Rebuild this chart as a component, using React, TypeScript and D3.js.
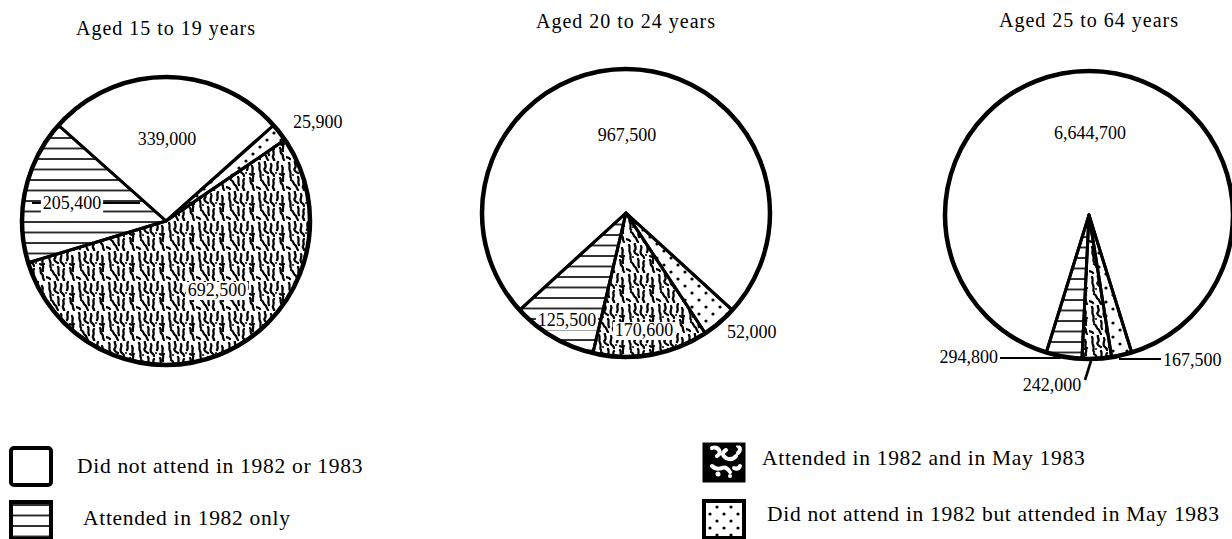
import React from "react";
import * as d3 from "d3";

const ageGroups = ["Aged 15 to 19 years", "Aged 20 to 24 years", "Aged 25 to 64 years"];
const categories = [
  "Did not attend in 1982 or 1983",
  "Did not attend in 1982 but attended in May 1983",
  "Attended in 1982 and in May 1983",
  "Attended in 1982 only",
];
// slice order clockwise: not attended, attended May 1983 only, both, 1982 only
const aged15to19 = [339000, 25900, 692500, 205400];
const aged20to24 = [967500, 52000, 170600, 125500];
const aged25to64 = [6644700, 167500, 242000, 294800];
const series = [aged15to19, aged20to24, aged25to64];

const width = 1232;
const height = 539;
const radius = 144;
const font = "'Liberation Serif', 'Times New Roman', serif";
const pies = [
  { x: 166, y: 221, ty: 35 },
  { x: 626, y: 213, ty: 28 },
  { x: 1089, y: 215, ty: 27 },
];
const fills = ["#fff", "url(#dots)", "url(#worms)", "url(#hlines)"];

// label placement relative to each pie centre
type Lab = { i: number; dx: number; dy: number; anchor?: string; bg?: boolean };
const labelLayout: Lab[][] = [
  [
    { i: 0, dx: 1, dy: -76 },
    { i: 1, dx: 127, dy: -93, anchor: "start" },
    { i: 2, dx: 51, dy: 75, bg: true },
    { i: 3, dx: -94, dy: -12, bg: true },
  ],
  [
    { i: 0, dx: 1, dy: -72 },
    { i: 1, dx: 101, dy: 125, anchor: "start" },
    { i: 2, dx: 18, dy: 123, bg: true },
    { i: 3, dx: -59, dy: 113, bg: true },
  ],
  [
    { i: 0, dx: 1, dy: -76 },
    { i: 1, dx: 74, dy: 151, anchor: "start" },
    { i: 2, dx: -37, dy: 176 },
    { i: 3, dx: -91, dy: 148, anchor: "end" },
  ],
];

const fmt = d3.format(",");

const App: React.FC = () => {
  const arc = d3.arc<d3.PieArcDatum<number>>().innerRadius(0).outerRadius(radius);

  return (
    <div style={{ position: "absolute", left: 0, top: 0 }}>
      <svg width={width} height={height} style={{ display: "block", background: "#fff" }}>
        <defs>
          <pattern id="hlines" width={10} height={10.5} patternUnits="userSpaceOnUse">
            <rect width={10} height={10.5} fill="#fff" />
            <line x1={0} x2={10} y1={1} y2={1} stroke="#000" strokeWidth={1.6} />
          </pattern>
          <pattern id="dots" width={14} height={14} patternUnits="userSpaceOnUse">
            <rect width={14} height={14} fill="#fff" />
            <circle cx={3} cy={3} r={1.6} fill="#000" />
            <circle cx={10} cy={10} r={1.6} fill="#000" />
          </pattern>
          <pattern id="worms" width={30} height={30} patternUnits="userSpaceOnUse">
            <rect width={30} height={30} fill="#fff" />
            <g fill="none" stroke="#000" strokeWidth={2.3} strokeLinecap="round" strokeLinejoin="round">
              <path d="M3,2 c2,3 -1,5 1,8 s-1,5 1,7" />
              <path d="M9,0 c-1,3 2,4 0,7 c-2,2 1,4 3,5" />
              <path d="M15,3 c2,2 -2,5 0,8 c1,2 3,1 3,4" />
              <path d="M22,1 c-2,3 1,5 -1,8" />
              <path d="M26,5 c2,3 -1,6 1,9 c1,2 -1,4 0,6" />
              <path d="M5,19 c3,1 2,4 4,5 c2,1 1,3 3,5" />
              <path d="M12,16 c2,3 -1,5 1,8" />
              <path d="M18,18 c-2,2 1,4 -1,7 c-1,2 2,3 1,5" />
              <path d="M24,17 c2,2 -1,4 2,6 c2,2 0,4 2,6" />
              <path d="M0,26 c2,1 3,0 4,2" />
              <path d="M28,13 c-1,1 -3,1 -4,0" />
            </g>
            <circle cx={20} cy={12} r={1} fill="#000" />
            <circle cx={7} cy={14} r={1} fill="#000" />
          </pattern>
          <pattern id="blobs" width={44} height={40} patternUnits="userSpaceOnUse">
            <rect width={44} height={40} fill="#000" />
            <g fill="none" stroke="#fff" strokeWidth={4} strokeLinecap="round">
              <path d="M8,8 q4,-2 7,2 q2,4 -2,6" />
              <path d="M22,10 q-6,4 0,8 q6,3 10,-2" />
              <path d="M34,6 q4,3 0,7" />
              <path d="M8,26 q4,4 10,2 q4,-2 8,4" />
              <path d="M30,28 q4,2 6,-2" />
            </g>
            <circle cx={14} cy={34} r={2.5} fill="#fff" />
            <circle cx={26} cy={36} r={2} fill="#fff" />
          </pattern>
        </defs>

        {series.map((values, k) => {
          const p = pies[k];
          const total = d3.sum(values);
          const start = -Math.PI * (values[0] / total);
          const pie = d3
            .pie<number>()
            .sort(null)
            .value((d) => d)
            .startAngle(start)
            .endAngle(start + 2 * Math.PI);
          const slices = pie(values);
          return (
            <g key={k}>
              <text
                x={p.x}
                y={p.ty}
                textAnchor="middle"
                fontFamily={font}
                fontSize={20}
                letterSpacing={1}
              >
                {ageGroups[k]}
              </text>
              <g transform={`translate(${p.x},${p.y})`}>
                {slices.map((s, i) => (
                  <path key={i} d={arc(s) || ""} fill={fills[i]} />
                ))}
                {k === 0 && (
                  <g stroke="#000" strokeWidth={2.2}>
                    <line x1={-134} x2={-26} y1={-18} y2={-18} />
                  </g>
                )}
                {labelLayout[k].map((l) => {
                  const txt = fmt(values[l.i]);
                  const w = txt.length * 8.6;
                  const anchor = l.anchor || "middle";
                  const x0 = anchor === "middle" ? l.dx - w / 2 : anchor === "start" ? l.dx : l.dx - w;
                  return (
                    <g key={l.i}>
                      {l.bg && (
                        <rect x={x0 - 1} y={l.dy - 14} width={w + 2} height={18} fill="#fff" />
                      )}
                      <text
                        x={l.dx}
                        y={l.dy}
                        textAnchor={anchor}
                        fontFamily={font}
                        fontSize={18}
                      >
                        {txt}
                      </text>
                    </g>
                  );
                })}
                {slices.map((s, i) => (
                  <path
                    key={"o" + i}
                    d={arc(s) || ""}
                    fill="none"
                    stroke="#000"
                    strokeWidth={3}
                    strokeLinejoin="round"
                  />
                ))}
                <circle r={radius} fill="none" stroke="#000" strokeWidth={4.5} />
                {k === 2 && (
                  <g stroke="#000" strokeWidth={2}>
                    <line x1={-89} x2={-28} y1={143} y2={143} />
                    <line x1={30} x2={72} y1={144} y2={144} />
                    <line x1={-4} x2={2} y1={165} y2={146} strokeWidth={2.6} />
                  </g>
                )}
              </g>
            </g>
          );
        })}

        {/* legend */}
        <g fontFamily={font} fontSize={21.5} letterSpacing={0.7}>
          <rect x={11} y={448} width={40} height={37} rx={3} fill="#fff" stroke="#000" strokeWidth={4} />
          <text x={77} y={473}>{categories[0]}</text>
          <rect x={11} y={502} width={40} height={37} fill="url(#hlines)" stroke="#000" strokeWidth={4} />
          <text x={83} y={525}>{categories[3]}</text>
          <rect x={704} y={444} width={40} height={37} fill="url(#blobs)" stroke="#000" strokeWidth={3} />
          <text x={762} y={465}>{categories[2]}</text>
          <rect x={704} y={501} width={40} height={37} fill="url(#dots)" stroke="#000" strokeWidth={4} />
          <text x={767} y={521}>{categories[1]}</text>
        </g>
      </svg>
    </div>
  );
};

export default App;
